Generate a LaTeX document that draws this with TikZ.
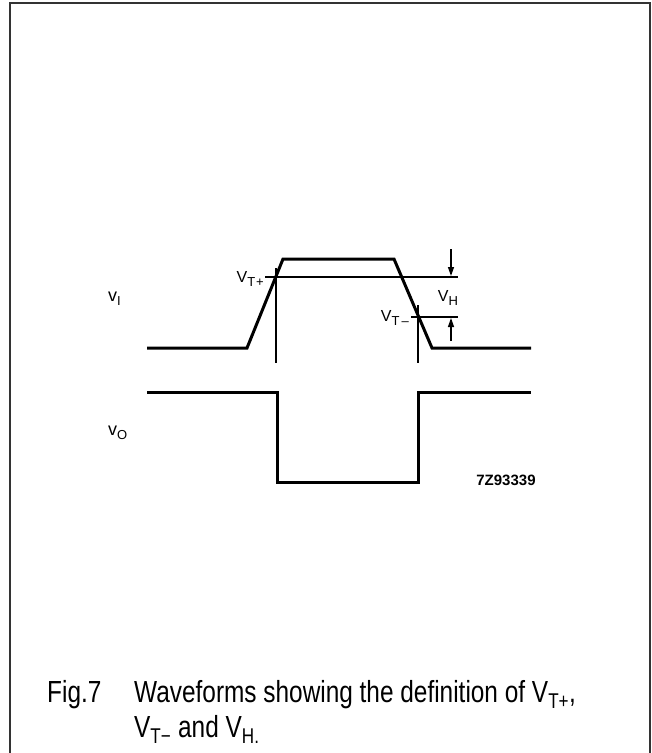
\documentclass[tikz,border=0pt]{standalone}
\usepackage{fontspec}
\setmainfont{Liberation Sans}
\newfontfamily\capfont[FakeStretch=0.8]{Liberation Sans}
\usetikzlibrary{arrows.meta}
\newcommand{\lab}[2]{#1\raisebox{-4pt}{\fontsize{13}{14}\selectfont #2}}
\begin{document}
\begin{tikzpicture}[x=1pt,y=-1pt,
  wave/.style={line width=3pt, line join=miter, line cap=butt},
  thinl/.style={line width=1.2pt},
  lbl/.style={inner sep=0pt, font=\fontsize{16}{18}\selectfont},
  dimarrow/.style={line width=1.3pt,-{Triangle[width=6pt,length=9pt]}},
  captext/.style={inner sep=0pt, anchor=base west, font=\capfont\fontsize{30.5}{34}\selectfont}]
\useasboundingbox (0,0) rectangle (652,753);
% frame
\draw[line width=1.5pt, black!80] (10,753) -- (10,3) -- (650,3) -- (650,753);
% input waveform
\coordinate (i0) at (147,348);
\coordinate (i1) at (247,348);
\coordinate (i2) at (283,259);
\coordinate (i3) at (394,259);
\coordinate (i4) at (432,348);
\coordinate (i5) at (531,348);
\draw[wave] (i0) -- (i1) -- (i2) -- (i3) -- (i4) -- (i5);
% output waveform
\coordinate (o0) at (147,392);
\coordinate (o1) at (277,392);
\coordinate (o2) at (277,482);
\coordinate (o3) at (418,482);
\coordinate (o4) at (418,392);
\coordinate (o5) at (531,392);
\draw[wave] (o0) -- (o1) -- (o2) -- (o3) -- (o4) -- (o5);
% threshold lines
\coordinate (tpA) at (265,277);
\coordinate (tpB) at (458,277);
\coordinate (tmA) at (411,317);
\coordinate (tmB) at (458,317);
\draw[thinl] (tpA) -- (tpB);
\draw[thinl] (tmA) -- (tmB);
\coordinate (vpT) at (276,268);
\coordinate (vpB) at (276,363);
\coordinate (vmT) at (418,305);
\coordinate (vmB) at (418,363);
\draw[thinl] (vpT) -- (vpB);
\draw[thinl] (vmT) -- (vmB);
% hysteresis arrows
\coordinate (a1s) at (451,249);
\coordinate (a1e) at (451,276);
\coordinate (a2s) at (451,341);
\coordinate (a2e) at (451,318);
\draw[dimarrow] (a1s) -- (a1e);
\draw[dimarrow] (a2s) -- (a2e);
% labels
\node[lbl, anchor=east] (ltp) at (264,279) {\lab{V}{T\hspace{1pt}+}};
\node[lbl, anchor=east] (ltm) at (409,318) {\lab{V}{T\hspace{2pt}\textendash}};
\node[lbl] (lh) at (448,298) {\lab{V}{H}};
\node[lbl, anchor=west] (li) at (108,299) {\fontsize{18}{20}\selectfont\lab{v}{I}};
\node[lbl, anchor=west] (lo) at (108,433) {\fontsize{18}{20}\selectfont\lab{v}{O}};
\node[inner sep=0pt, font=\fontsize{15}{17}\selectfont\bfseries] (code) at (506,480) {7Z93339};
% caption
\node[captext] (fig) at (47,702) {Fig.7};
\node[captext] (c1) at (134,702) {Waveforms showing the definition of V\textsubscript{T+},};
\node[captext] (c2) at (134,737) {V\textsubscript{T\textminus} and V\textsubscript{H.}};
\end{tikzpicture}
\end{document}
